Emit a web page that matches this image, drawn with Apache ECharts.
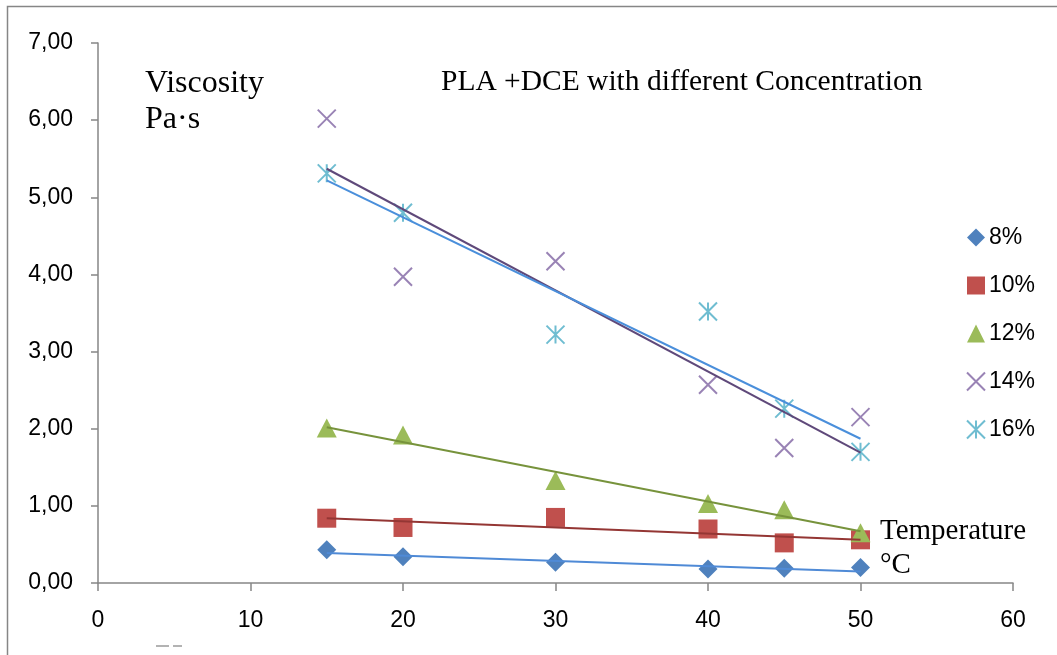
<!DOCTYPE html>
<html>
<head>
<meta charset="utf-8">
<script src="https://cdn.jsdelivr.net/npm/echarts@6/dist/echarts.min.js"></script>
<style>
html,body{margin:0;padding:0;background:#fff;}
#c{width:1057px;height:655px;}
</style>
</head>
<body>
<div id="c"></div>
<script>
var temps = [15, 20, 30, 40, 45, 50];
var seriesNames = ['8%', '10%', '12%', '14%', '16%'];
var v8  = [0.43, 0.34, 0.27, 0.18, 0.19, 0.20];
var v10 = [0.84, 0.72, 0.85, 0.70, 0.52, 0.56];
var v12 = [2.01, 1.92, 1.33, 1.03, 0.95, 0.65];
var v14 = [6.02, 3.97, 4.17, 2.57, 1.75, 2.15];
var v16 = [5.31, 4.80, 3.22, 3.52, 2.26, 1.70];
// linear trend line end points (x = 15 and x = 50)
var trendX = [15, 50];
var t8  = [0.39, 0.15];
var t10 = [0.84, 0.56];
var t12 = [2.02, 0.67];
var t14 = [5.37, 1.69];
var t16 = [5.22, 1.87];
var yTicks = [0, 1, 2, 3, 4, 5, 6, 7];
var xTicks = [0, 10, 20, 30, 40, 50, 60];

var values = [v8, v10, v12, v14, v16];
var trends = [t8, t10, t12, t14, t16];
var colors = ['#4F81BD', '#C0504D', '#9BBB59', '#8064A2', '#4BACC6'];
var trendColors = ['#4F8AD6', '#943634', '#77933C', '#5F497A', '#4A8FDB'];
var symbols = ['diamond', 'rect', 'triangle',
  'path://M0 0 L10 10 M10 0 L0 10',
  'path://M0 0 L10 10 M10 0 L0 10 M5 0 L5 10'];
var sizes = [[19, 19], [19, 19], [20, 19], [18, 18], [18, 18]];

function pairs(xs, ys) { return xs.map(function (x, i) { return [x, ys[i]]; }); }

var series = [];
seriesNames.forEach(function (n, i) {
  var stroke = i >= 3;
  series.push({
    name: n, type: 'scatter', data: pairs(temps, values[i]),
    symbol: symbols[i], symbolSize: sizes[i], z: 2,
    itemStyle: stroke ? { color: 'rgba(0,0,0,0)', borderColor: colors[i], borderWidth: 2 }
                      : { color: colors[i], borderColor: colors[i], borderWidth: 0, opacity: 1 },
    emphasis: { disabled: true }
  });
});
seriesNames.forEach(function (n, i) {
  series.push({
    name: n + ' trend', type: 'line', data: pairs(trendX, trends[i]),
    showSymbol: false, symbol: 'none', z: 3, silent: true,
    lineStyle: { color: trendColors[i], width: 2 }
  });
});

var chart = echarts.init(document.getElementById('c'));
chart.setOption({
  animation: false,
  backgroundColor: '#fff',
  grid: { left: 98, right: 44, top: 43, bottom: 72, containLabel: false },
  xAxis: {
    type: 'value', min: xTicks[0], max: xTicks[xTicks.length - 1], interval: 10,
    splitLine: { show: false },
    axisLine: { onZero: false, lineStyle: { color: '#868686', width: 1.5 } },
    axisTick: { show: true, length: 8, lineStyle: { color: '#868686', width: 1.5 } },
    axisLabel: { color: '#000', fontFamily: 'Liberation Sans', fontSize: 23, margin: 26 }
  },
  yAxis: {
    type: 'value', min: yTicks[0], max: yTicks[yTicks.length - 1], interval: 1,
    splitLine: { show: false },
    axisLine: { show: true, lineStyle: { color: '#868686', width: 1.5 } },
    axisTick: { show: true, length: 7, lineStyle: { color: '#868686', width: 1.5 } },
    axisLabel: { color: '#000', fontFamily: 'Liberation Sans', fontSize: 23, margin: 25,
      formatter: function (v) { return v.toFixed(2).replace('.', ','); } }
  },
  legend: {
    data: seriesNames.map(function (n, i) { return { name: n, icon: symbols[i] }; }),
    orient: 'vertical', left: 961, top: 221,
    itemWidth: 18, itemHeight: 18, itemGap: 25,
    selectedMode: false,
    textStyle: { color: '#000', fontFamily: 'Liberation Sans', fontSize: 23, padding: [0, 0, 0, -1] }
  },
  graphic: [
    { type: 'rect', shape: { x: 7.5, y: 6.5, width: 1100, height: 700 }, style: { fill: 'none', stroke: '#868686', lineWidth: 1.5 }, silent: true, z: -1 },
    { type: 'text', left: 145, top: 68, style: { text: 'Viscosity', font: '32px "Liberation Serif"', fill: '#000' } },
    { type: 'text', left: 145, top: 104, style: { text: 'Pa·s', font: '32px "Liberation Serif"', fill: '#000' } },
    { type: 'text', left: 441, top: 67, style: { text: 'PLA +DCE with different Concentration', font: '29.5px "Liberation Serif"', fill: '#000' } },
    { type: 'text', left: 880, top: 517, style: { text: 'Temperature', font: '29px "Liberation Serif"', fill: '#000' } },
    { type: 'text', left: 880, top: 551, style: { text: '°C', font: '29px "Liberation Serif"', fill: '#000' } },
    { type: 'line', shape: { x1: 156, y1: 646, x2: 169, y2: 646 }, style: { stroke: '#9a9a9a', lineWidth: 1.5 } },
    { type: 'line', shape: { x1: 173, y1: 646, x2: 182, y2: 646 }, style: { stroke: '#9a9a9a', lineWidth: 1.5 } }
  ],
  series: series
});
</script>
</body>
</html>
